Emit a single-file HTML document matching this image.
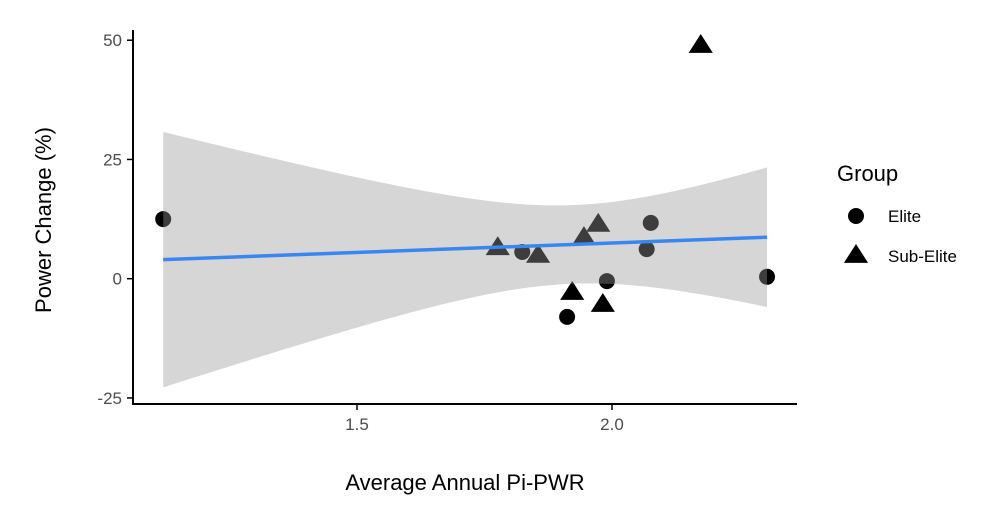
<!DOCTYPE html>
<html><head><meta charset="utf-8"><style>
body{margin:0;background:#fff}
svg text{font-family:"Liberation Sans",Arial,sans-serif}
</style></head><body>
<svg id="chart" width="1000" height="505"></svg>
<script>
const eliteX=[1.120,1.824,1.912,1.990,2.068,2.076,2.304];
const eliteY=[12.5,5.6,-8.0,-0.5,6.2,11.7,0.4];
const subX=[1.776,1.855,1.922,1.945,1.973,1.982,2.174];
const subY=[6.6,5.0,-2.8,8.7,11.5,-5.3,49.0];
const yTicks=[50,25,0,-25];
const xTicks=[1.5,2.0];
const xTickLabels=["1.5","2.0"];

const NS="http://www.w3.org/2000/svg";
const svg=document.getElementById('chart');
function sx(v){return 357+(v-1.5)*510;}
function sy(v){return 278.7-v*4.77;}
function el(t,a,p){const e=document.createElementNS(NS,t);for(const k in a)e.setAttribute(k,a[k]);(p||svg).appendChild(e);return e;}

function tri(cx,cy,s){return `${cx},${cy-s*1.05} ${cx-s*1.15},${cy+s*0.75} ${cx+s*1.15},${cy+s*0.75}`;}

for(let i=0;i<eliteX.length;i++){
  const c=el('circle',{cx:sx(eliteX[i]),cy:sy(eliteY[i]),r:8,fill:'#000'});
  
  
}
for(let i=0;i<subX.length;i++){
  const p=el('polygon',{points:tri(sx(subX[i]),sy(subY[i]),10.5),fill:'#000'});
  
  
}

const X=eliteX.concat(subX),Y=eliteY.concat(subY),n=X.length;
const mx=X.reduce((a,b)=>a+b)/n,my=Y.reduce((a,b)=>a+b)/n;
let sxx=0,sxy=0;for(let i=0;i<n;i++){sxx+=(X[i]-mx)**2;sxy+=(X[i]-mx)*(Y[i]-my);}
const b=sxy/sxx,a=my-b*mx;
let sse=0;for(let i=0;i<n;i++)sse+=(Y[i]-a-b*X[i])**2;
const s=Math.sqrt(sse/(n-2)),t=2.179;
const x0=Math.min(...X),x1=Math.max(...X);
let up=[],lo=[];
for(let k=0;k<=80;k++){const x=x0+(x1-x0)*k/80;const f=a+b*x;const h=t*s*Math.sqrt(1/n+(x-mx)**2/sxx);
 up.push(sx(x)+','+sy(f+h));lo.unshift(sx(x)+','+sy(f-h));}
const band=el('polygon',{points:up.concat(lo).join(' '),fill:'#999',opacity:0.4});


const line=el('line',{x1:sx(x0),y1:sy(a+b*x0),x2:sx(x1),y2:sy(a+b*x1),stroke:'#3a86f0','stroke-width':3.5});



const ya=el('line',{x1:133,y1:30,x2:133,y2:405,stroke:'#000','stroke-width':2});


const xa=el('line',{x1:132,y1:404,x2:797,y2:404,stroke:'#000','stroke-width':2});


yTicks.forEach(v=>{
  el('line',{x1:127,y1:sy(v),x2:133,y2:sy(v),stroke:'#000','stroke-width':1.5});
  const tx=el('text',{x:122,y:sy(v)+6,'text-anchor':'end','font-size':17,fill:'#4d4d4d'});tx.textContent=v;
  
  
});
xTicks.forEach((v,i)=>{
  el('line',{x1:sx(v),y1:404,x2:sx(v),y2:410,stroke:'#000','stroke-width':1.5});
  const tx=el('text',{x:sx(v),y:430,'text-anchor':'middle','font-size':17,fill:'#4d4d4d'});tx.textContent=xTickLabels[i];
  
  
});
const xt=el('text',{x:465,y:490,'text-anchor':'middle','font-size':22,fill:'#000'});xt.textContent='Average Annual Pi-PWR';


const yt=el('text',{x:0,y:0,'text-anchor':'middle','font-size':22,fill:'#000',transform:'translate(51,220) rotate(-90)'});yt.textContent='Power Change (%)';



const lg=el('g',{});


const lt=el('text',{x:837,y:181,'font-size':22,fill:'#000'},lg);lt.textContent='Group';
el('circle',{cx:856,cy:216,r:8,fill:'#000'},lg);
const l1=el('text',{x:888,y:222,'font-size':17,fill:'#000'},lg);l1.textContent='Elite';


el('polygon',{points:tri(856,255,10.5),fill:'#000'},lg);
const l2=el('text',{x:888,y:262,'font-size':17,fill:'#000'},lg);l2.textContent='Sub-Elite';


</script>
</body></html>
